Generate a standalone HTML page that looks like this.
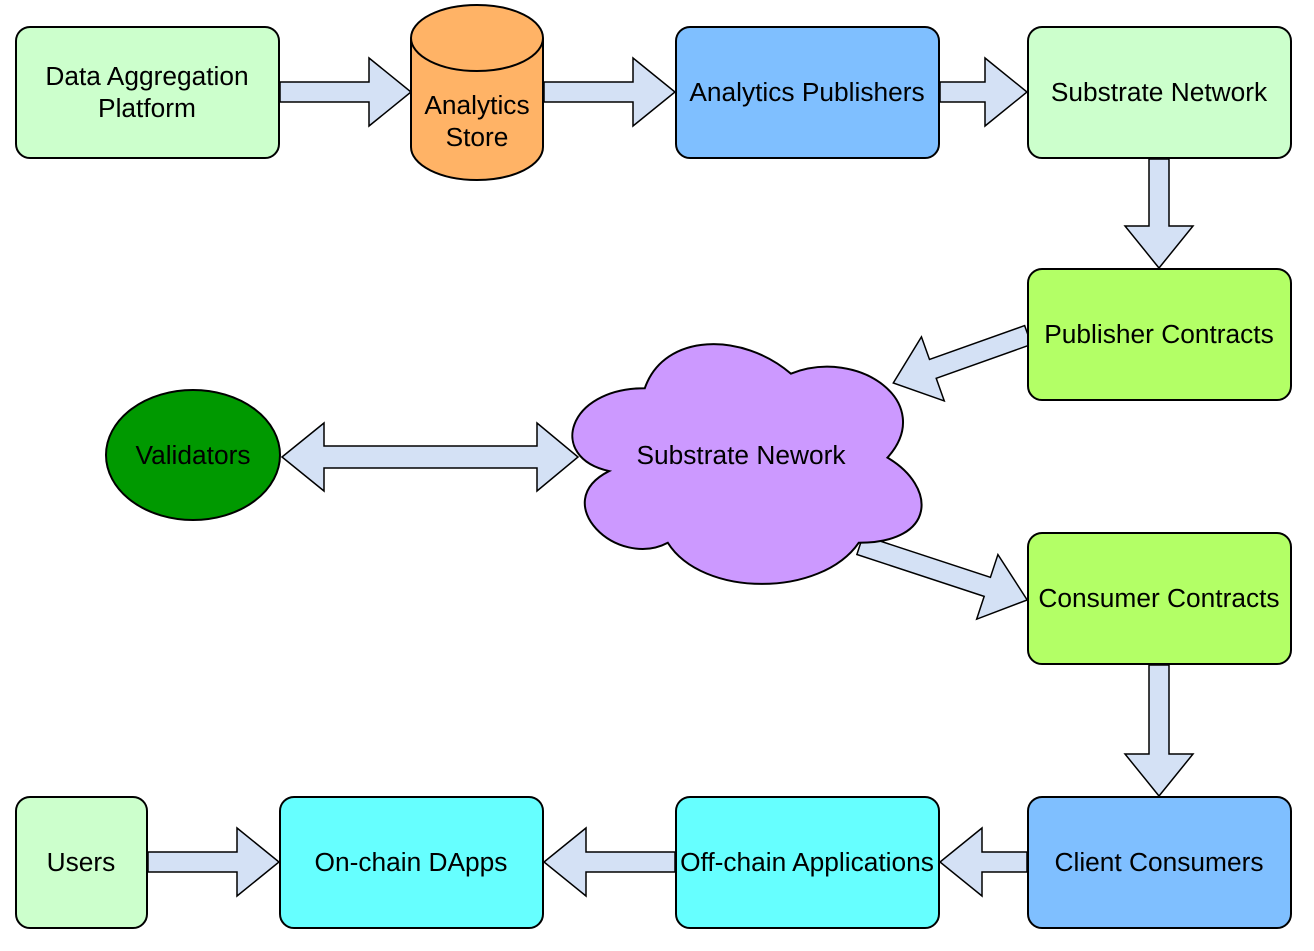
<!DOCTYPE html>
<html><head><meta charset="utf-8"><style>body{margin:0;background:#fff}svg{display:block}text{font-family:"Liberation Sans",Arial,sans-serif;font-size:26.3px;text-anchor:middle;dominant-baseline:central;fill:#000}</style></head><body>
<svg width="1314" height="951" viewBox="0 0 1314 951" xmlns="http://www.w3.org/2000/svg">
<defs>
<polygon id="a131" points="0,-10 89,-10 89,-34 131,0 89,34 89,10 0,10"/>
<polygon id="a87" points="0,-10 45,-10 45,-34 87,0 45,34 45,10 0,10"/>
<polygon id="a109" points="0,-10 67,-10 67,-34 109,0 67,34 67,10 0,10"/>
</defs>
<g fill="#D4E1F5" stroke="#000" stroke-width="1.5">
<use href="#a131" transform="translate(280,92)"/>
<use href="#a131" transform="translate(544,92)"/>
<use href="#a87" transform="translate(940,92)"/>
<use href="#a109" transform="translate(1159,159) rotate(90)"/>
<use href="#a131" transform="translate(1159,665) rotate(90)"/>
<use href="#a87" transform="translate(1027,862) rotate(180)"/>
<use href="#a131" transform="translate(675,862) rotate(180)"/>
<use href="#a131" transform="translate(148,862)"/>
<polygon transform="translate(1028,335) rotate(160.4)" points="0,-10 101,-10 101,-34 143,0 101,34 101,10 0,10"/>
<polygon transform="translate(860,545) rotate(18.2)" points="0,-10 134,-10 134,-34 176,0 134,34 134,10 0,10"/>
<polygon points="282,457 324,423 324,446 537,446 537,423 578,457 537,491 537,468 324,468 324,491"/>
</g>
<g stroke="#000" stroke-width="2">
<rect x="16" y="27" width="263" height="131" rx="14" fill="#CCFFCC"/>
<rect x="676" y="27" width="263" height="131" rx="14" fill="#7FBFFF"/>
<rect x="1028" y="27" width="263" height="131" rx="14" fill="#CCFFCC"/>
<rect x="1028" y="269" width="263" height="131" rx="14" fill="#B3FF66"/>
<rect x="1028" y="533" width="263" height="131" rx="14" fill="#B3FF66"/>
<rect x="1028" y="797" width="263" height="131" rx="14" fill="#7FBFFF"/>
<rect x="676" y="797" width="263" height="131" rx="14" fill="#66FFFF"/>
<rect x="280" y="797" width="263" height="131" rx="14" fill="#66FFFF"/>
<rect x="16" y="797" width="131" height="131" rx="14" fill="#CCFFCC"/>
<ellipse cx="193" cy="455" rx="87" ry="65" fill="#009900"/>
<path d="M411,38 A66,33 0 0 1 543,38 L543,147 A66,33 0 0 1 411,147 Z" fill="#FFB366"/>
<path d="M411,38 A66,33 0 0 0 543,38" fill="none"/>
<path transform="translate(746,461) scale(1.15,1.12) translate(-745,-465)" vector-effect="non-scaling-stroke" d="M657,400 C589,400 572,462 626,474 C572,502 633,562 677,538 C707,587 810,587 843,538 C911,538 911,488 868,462 C911,413 843,363 784,387 C742,350 674,350 657,400 Z" fill="#CC99FF"/>
</g>
<text x="147" y="76">Data Aggregation</text><text x="147" y="108">Platform</text>
<text x="477" y="105">Analytics</text><text x="477" y="137">Store</text>
<text x="807" y="92">Analytics Publishers</text>
<text x="1159" y="92">Substrate Network</text>
<text x="1159" y="334">Publisher Contracts</text>
<text x="1159" y="598">Consumer Contracts</text>
<text x="1159" y="862">Client Consumers</text>
<text x="807" y="862">Off-chain Applications</text>
<text x="411" y="862">On-chain DApps</text>
<text x="81" y="862">Users</text>
<text x="193" y="455">Validators</text>
<text x="741" y="455">Substrate Nework</text>
</svg>
</body></html>
